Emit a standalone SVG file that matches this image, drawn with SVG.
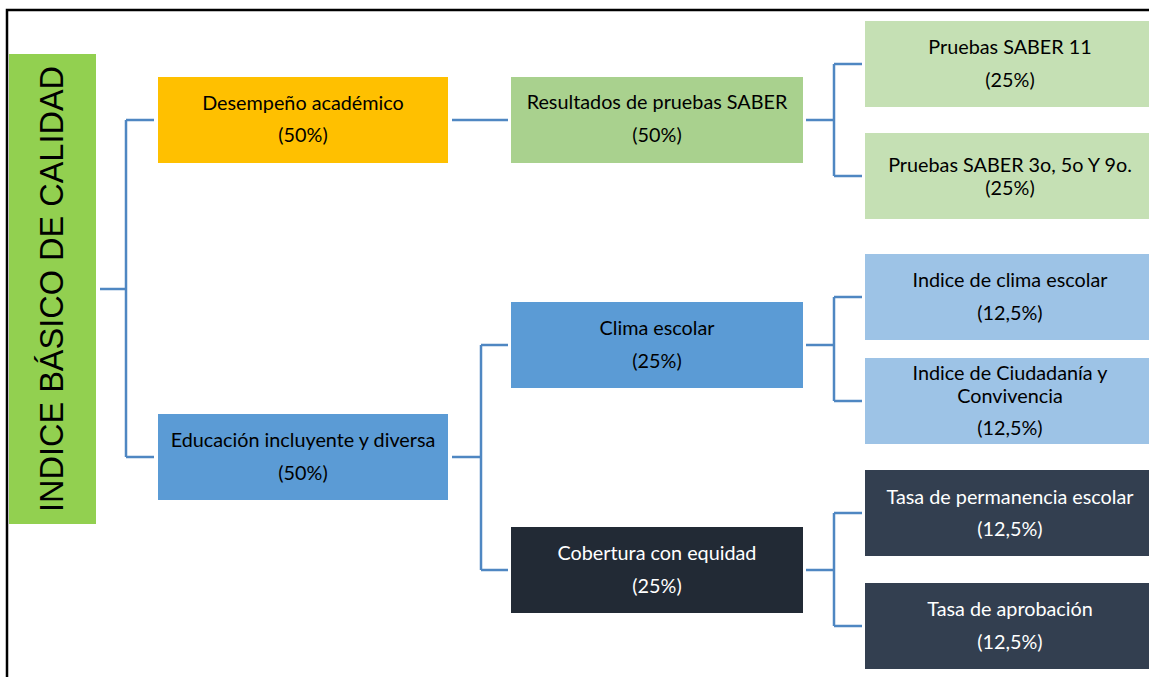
<svg xmlns="http://www.w3.org/2000/svg" width="1149" height="677" viewBox="0 0 1149 677">
<style>
text{font-family:Lato,"Liberation Sans",sans-serif;font-size:19.8px;text-anchor:middle;fill:#000}
.w{fill:#fff}
.c{fill:none;stroke:#4F87C2;stroke-width:2.5}
.root{font-family:"Liberation Sans",Arial,sans-serif;font-size:32.5px}
</style>
<rect width="1149" height="677" fill="#fff"/>
<path d="M7,677 V10 H1149" fill="none" stroke="#000" stroke-width="2.5"/>
<g id="connectors">
<path class="c" d="M100,289 H126 M126,120 V457 M126,120 H154 M126,457 H154"/>
<path class="c" d="M452,120 H508"/>
<path class="c" d="M452,457 H481 M481,345 V570 M481,345 H508 M481,570 H508"/>
<path class="c" d="M806,120 H834 M834,64 V176 M834,64 H862 M834,176 H862"/>
<path class="c" d="M806,345 H834 M834,297 V401 M834,297 H862 M834,401 H862"/>
<path class="c" d="M806,570 H834 M834,513 V626 M834,513 H862 M834,626 H862"/>
</g>
<g id="root">
<rect x="9" y="54" width="87" height="470" fill="#92D050"/>
<text class="root" transform="translate(63,289) rotate(-90)">INDICE BÁSICO DE CALIDAD</text>
</g>
<g id="desempeno">
<rect x="158" y="77" width="290" height="86" fill="#FFC000"/>
<text x="303" y="110">Desempeño académico</text>
<text x="303" y="142">(50%)</text>
</g>
<g id="educacion">
<rect x="158" y="414" width="290" height="86" fill="#5B9BD5"/>
<text x="303" y="447">Educación incluyente y diversa</text>
<text x="303" y="480">(50%)</text>
</g>
<g id="resultados">
<rect x="511" y="77" width="292" height="86" fill="#A9D18E"/>
<text x="657" y="109">Resultados de pruebas SABER</text>
<text x="657" y="142">(50%)</text>
</g>
<g id="clima">
<rect x="511" y="302" width="292" height="86" fill="#5B9BD5"/>
<text x="657" y="335">Clima escolar</text>
<text x="657" y="368">(25%)</text>
</g>
<g id="cobertura">
<rect x="511" y="527" width="292" height="86" fill="#222A35"/>
<text class="w" x="657" y="560">Cobertura con equidad</text>
<text class="w" x="657" y="593">(25%)</text>
</g>
<g id="saber11">
<rect x="865" y="21" width="284" height="86" fill="#C5E0B4"/>
<text x="1010" y="54">Pruebas SABER 11</text>
<text x="1010" y="87">(25%)</text>
</g>
<g id="saber3">
<rect x="865" y="133" width="284" height="86" fill="#C5E0B4"/>
<text x="1010" y="172">Pruebas SABER 3o, 5o Y 9o.</text>
<text x="1010" y="195">(25%)</text>
</g>
<g id="indiceclima">
<rect x="865" y="254" width="284" height="86" fill="#9DC3E6"/>
<text x="1010" y="287">Indice de clima escolar</text>
<text x="1010" y="320">(12,5%)</text>
</g>
<g id="ciudadania">
<rect x="865" y="358" width="284" height="86" fill="#9DC3E6"/>
<text x="1010" y="380">Indice de Ciudadanía y</text>
<text x="1010" y="403">Convivencia</text>
<text x="1010" y="435">(12,5%)</text>
</g>
<g id="permanencia">
<rect x="865" y="470" width="284" height="86" fill="#333F50"/>
<text class="w" x="1010" y="504">Tasa de permanencia escolar</text>
<text class="w" x="1010" y="536">(12,5%)</text>
</g>
<g id="aprobacion">
<rect x="865" y="583" width="284" height="86" fill="#333F50"/>
<text class="w" x="1010" y="616">Tasa de aprobación</text>
<text class="w" x="1010" y="649">(12,5%)</text>
</g>
</svg>
